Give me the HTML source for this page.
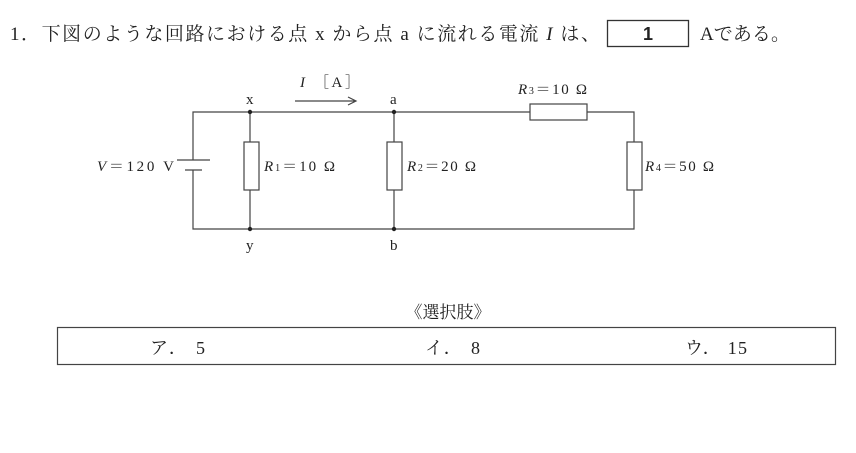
<!DOCTYPE html>
<html><head><meta charset="utf-8"><style>
html,body{margin:0;padding:0;background:#fff;}
svg{display:block}
text{font-family:"Liberation Serif","Noto Serif CJK SC",serif;fill:#222}
</style></head><body>
<svg width="856" height="453" viewBox="0 0 856 453" xmlns="http://www.w3.org/2000/svg">
<text x="10" y="40" font-size="19" textLength="590" lengthAdjust="spacing">1．下図のような回路における点 x から点 a に流れる電流 <tspan font-style="italic">I</tspan> は、</text>
<rect x="607.5" y="20.5" width="81" height="26" fill="none" stroke="#333" stroke-width="1.3"/>
<text x="648" y="40" font-size="18" text-anchor="middle" font-weight="bold" style="font-family:'Liberation Sans',sans-serif">1</text>
<text x="700" y="40" font-size="19" textLength="90" lengthAdjust="spacing">Aである。</text>

<g stroke="#444" stroke-width="1.2" fill="none">
<path d="M193 160 V112 H530 M587 112 H634 V142 M634 190 V229 H193 V170"/>
<line x1="250" y1="112" x2="250" y2="142"/><line x1="250" y1="190" x2="250" y2="229"/>
<line x1="394" y1="112" x2="394" y2="142"/><line x1="394" y1="190" x2="394" y2="229"/>
<rect x="244" y="142" width="15" height="48" fill="#fff"/>
<rect x="387" y="142" width="15" height="48" fill="#fff"/>
<rect x="627" y="142" width="15" height="48" fill="#fff"/>
<rect x="530" y="104" width="57" height="16" fill="#fff"/>
<line x1="177" y1="160" x2="210" y2="160"/>
<line x1="185" y1="170" x2="202" y2="170"/>
<path d="M295 101 H356 M348 97 L356 101 L348 105"/>
</g>
<g fill="#222">
<circle cx="250" cy="112" r="2.2"/><circle cx="394" cy="112" r="2.2"/>
<circle cx="250" cy="229" r="2.2"/><circle cx="394" cy="229" r="2.2"/>
</g>
<g font-size="15">
<text x="246" y="104">x</text><text x="390" y="104">a</text>
<text x="246" y="250">y</text><text x="390" y="250">b</text>
<text x="300" y="87" textLength="60" lengthAdjust="spacing"><tspan font-style="italic">I</tspan> ［A］</text>
<text x="518" y="94" textLength="69" lengthAdjust="spacing"><tspan font-style="italic">R</tspan><tspan font-size="10">3</tspan>＝10 Ω</text>
<text x="264" y="171" textLength="71" lengthAdjust="spacing"><tspan font-style="italic">R</tspan><tspan font-size="10">1</tspan>＝10 Ω</text>
<text x="407" y="171" textLength="69" lengthAdjust="spacing"><tspan font-style="italic">R</tspan><tspan font-size="10">2</tspan>＝20 Ω</text>
<text x="645" y="171" textLength="69" lengthAdjust="spacing"><tspan font-style="italic">R</tspan><tspan font-size="10">4</tspan>＝50 Ω</text>
<text x="97" y="171" textLength="77" lengthAdjust="spacing"><tspan font-style="italic">V</tspan>＝120 V</text>
</g>
<text x="448" y="318" font-size="17" text-anchor="middle">《選択肢》</text>
<rect x="57.5" y="327.5" width="778" height="37" fill="none" stroke="#444" stroke-width="1.2"/>
<g font-size="18">
<text x="150" y="354" textLength="55" lengthAdjust="spacing">ア． 5</text>
<text x="425" y="354" textLength="55" lengthAdjust="spacing">イ． 8</text>
<text x="685" y="354" textLength="62" lengthAdjust="spacing">ウ． 15</text>
</g>
</svg>
</body></html>
